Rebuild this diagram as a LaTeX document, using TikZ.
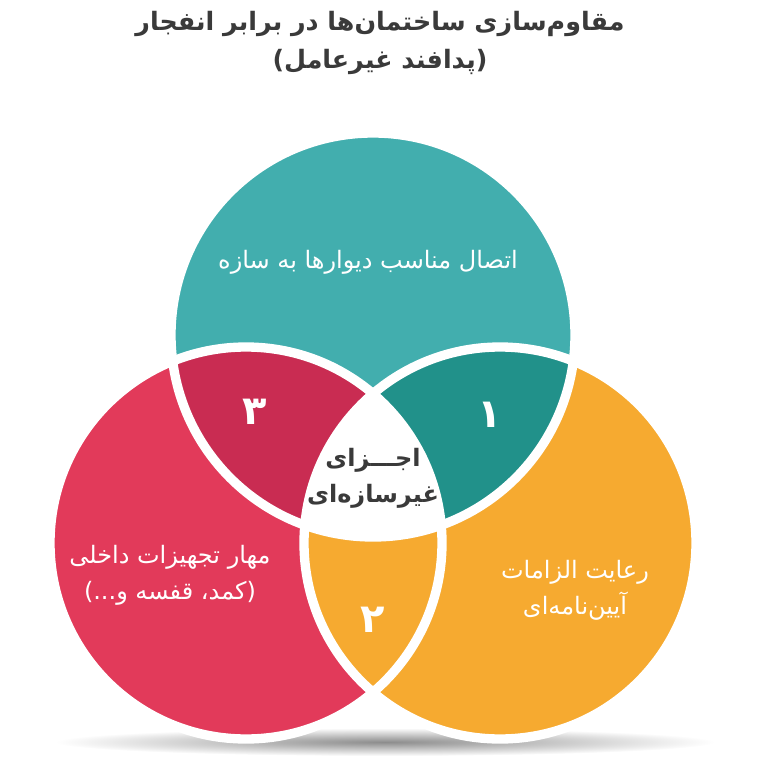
\documentclass[tikz,border=0pt]{standalone}
\usepackage{fontspec}
\usepackage{xcolor}
\newfontfamily\arabicfont[Script=Arabic]{DejaVu Sans}
\TeXXeTstate=1
\usetikzlibrary{positioning}
\definecolor{tealc}{HTML}{42AEAE}
\definecolor{redc}{HTML}{E23A5A}
\definecolor{orangec}{HTML}{F6AA30}
\definecolor{darkred}{HTML}{C92C52}
\definecolor{darkteal}{HTML}{21918A}
\definecolor{titlec}{HTML}{3A3A3A}
\tikzset{
    gap/.style={draw=white, line width=7pt},
    ftext/.style={text=white, font=\arabicfont\fontsize{18}{27}\selectfont, align=center},
    numtext/.style={text=white, font=\arabicfont\bfseries\fontsize{30}{30}\selectfont},
}
\begin{document}
\begin{tikzpicture}[x=0.75pt,y=-0.75pt]
    \useasboundingbox (0,0) rectangle (768,774);
    % Shadow
    \shade[inner color=black!45, outer color=white] (385,742) ellipse (330 and 14);

    % Circles
    \def\top{(373,335) circle (202)}
    \def\lft{(246,543) circle (196)}
    \def\rgt{(500,543) circle (196)}
    \fill[redc] \lft;
    \fill[orangec] \rgt;
    \fill[tealc] \top;
    \begin{scope}
        \clip \top;
        \fill[darkred] \lft;
        \fill[darkteal] \rgt;
    \end{scope}
    \begin{scope}
        \clip \lft;
        \fill[orangec] \rgt;
    \end{scope}
    \begin{scope}
        \clip \top;
        \clip \lft;
        \fill[white] \rgt;
    \end{scope}
    \draw[gap] \top;
    \draw[gap] \lft;
    \draw[gap] \rgt;

    % Title
    \node[text=titlec, font=\arabicfont\bfseries\fontsize{19}{29}\selectfont, align=center] (title) at (380,43)
        {\beginR مقاوم‌سازی ساختمان‌ها در برابر انفجار\endR\\ \beginR(پدافند غیرعامل)\endR};

    % Labels
    \node[ftext] (toplabel) at (368,262) {\beginR اتصال مناسب دیوارها به سازه\endR};
    \node[ftext] (leftlabel) at (170,575) {\beginR مهار تجهیزات داخلی\endR\\ \beginR(کمد، قفسه و...)\endR};
    \node[ftext] (rightlabel) at (575,590) {\beginR رعایت الزامات\endR\\ \beginR آیین‌نامه‌ای\endR};
    \node[text=titlec, font=\arabicfont\bfseries\fontsize{18}{27}\selectfont, align=center] (center) at (373,478)
        {\beginR اجـــزای\endR\\ \beginR غیرسازه‌ای\endR};

    % Numbers
    \node[numtext] (n3) at (255,412) {۳};
    \node[numtext] (n1) at (490,415) {۱};
    \node[numtext] (n2) at (373,620) {۲};
\end{tikzpicture}
\end{document}
